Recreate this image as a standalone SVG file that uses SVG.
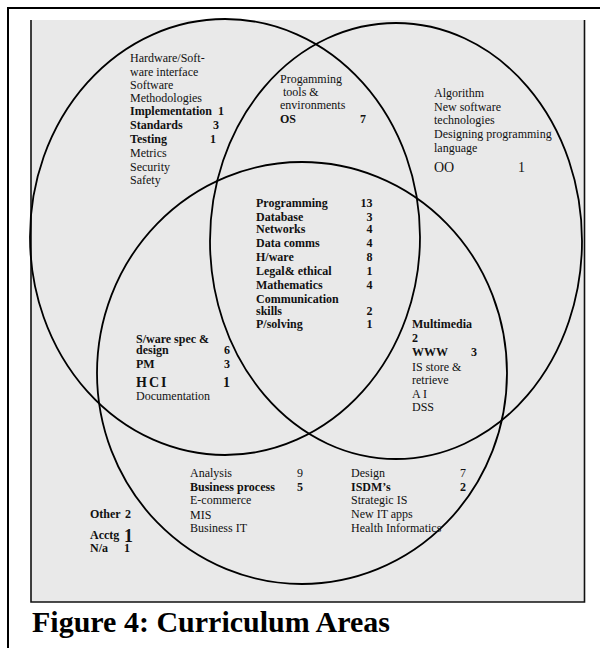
<svg xmlns="http://www.w3.org/2000/svg" width="600" height="648" viewBox="0 0 600 648">
<defs>
<style>
text{font-family:"Liberation Serif","Times New Roman",serif;font-size:12px;fill:#111}
.b{font-weight:bold}
.e{text-anchor:end}
.set{fill:none;stroke:#000;stroke-width:1.8}
</style>
</defs>
<rect x="0" y="0" width="600" height="648" fill="#fff"/>
<rect x="8" y="8" width="610" height="660" fill="none" stroke="#000" stroke-width="2"/>
<rect x="31" y="20" width="553.5" height="582" fill="#e9e9e9"/>
<path d="M31 20V602H584.5V20" fill="none" stroke="#111" stroke-width="1.6"/>
<g id="sets">
<g id="set-left"><ellipse class="set" cx="225" cy="237" rx="195" ry="218"/></g>
<g id="set-right"><ellipse class="set" cx="396" cy="241" rx="186" ry="218"/></g>
<g id="set-bottom"><ellipse class="set" cx="302" cy="373" rx="205" ry="211"/></g>
</g>
<g id="connectors"></g>
<g id="region-left">
<text x="130" y="62">Hardware/Soft-</text>
<text x="130" y="75.5">ware interface</text>
<text x="130" y="89">Software</text>
<text x="130" y="101.5">Methodologies</text>
<text x="130" y="115" class="b">Implementation</text><text x="218" y="115" class="b">1</text>
<text x="130" y="129" class="b">Standards</text><text x="213" y="129" class="b">3</text>
<text x="130" y="143" class="b">Testing</text><text x="210" y="143" class="b">1</text>
<text x="130" y="157">Metrics</text>
<text x="130" y="171">Security</text>
<text x="130" y="184">Safety</text>
</g>
<g id="region-left-right">
<text x="280" y="83">Progamming</text>
<text x="283" y="96">tools &amp;</text>
<text x="280" y="109">environments</text>
<text x="280" y="123" class="b">OS</text><text x="360" y="123" class="b">7</text>
</g>
<g id="region-right">
<text x="434" y="97">Algorithm</text>
<text x="434" y="111">New software</text>
<text x="434" y="124">technologies</text>
<text x="434" y="138">Designing programming</text>
<text x="434" y="152">language</text>
<text x="434" y="172" style="font-size:14px">OO</text><text x="518" y="172" style="font-size:14px">1</text>
</g>
<g id="region-center" class="b">
<text x="256" y="207" class="b">Programming</text><text x="372.5" y="207" class="b e">13</text>
<text x="256" y="220.5" class="b">Database</text><text x="372.5" y="220.5" class="b e">3</text>
<text x="256" y="232.5" class="b">Networks</text><text x="372.5" y="232.5" class="b e">4</text>
<text x="256" y="246.5" class="b">Data comms</text><text x="372.5" y="246.5" class="b e">4</text>
<text x="256" y="260.5" class="b">H/ware</text><text x="372.5" y="260.5" class="b e">8</text>
<text x="256" y="274.5" class="b">Legal&amp; ethical</text><text x="372.5" y="274.5" class="b e">1</text>
<text x="256" y="288.5" class="b">Mathematics</text><text x="372.5" y="288.5" class="b e">4</text>
<text x="256" y="302.5" class="b">Communication</text>
<text x="256" y="315" class="b">skills</text><text x="372.5" y="315" class="b e">2</text>
<text x="256" y="328" class="b">P/solving</text><text x="372.5" y="328" class="b e">1</text>
</g>
<g id="region-left-bottom">
<text x="136" y="342.5" class="b">S/ware spec &amp;</text>
<text x="136" y="354" class="b">design</text><text x="230" y="354" class="b e">6</text>
<text x="136" y="368" class="b">PM</text><text x="230" y="368" class="b e">3</text>
<text x="136" y="386.5" class="b" style="font-size:14px;letter-spacing:2px">HCI</text><text x="230" y="386.5" class="b e" style="font-size:14px">1</text>
<text x="136" y="400">Documentation</text>
</g>
<g id="region-right-bottom">
<text x="412" y="328" class="b">Multimedia</text>
<text x="412" y="342" class="b">2</text>
<text x="412" y="356" class="b">WWW</text><text x="471" y="356" class="b">3</text>
<text x="412" y="370.5">IS store &amp;</text>
<text x="412" y="384">retrieve</text>
<text x="412" y="398">A I</text>
<text x="412" y="410.5">DSS</text>
</g>
<g id="region-bottom-left">
<text x="190" y="476.5">Analysis</text><text x="303" y="476.5" class="e">9</text>
<text x="190" y="490.5" class="b">Business process</text><text x="303" y="490.5" class="b e">5</text>
<text x="190" y="504">E-commerce</text>
<text x="190" y="518.5">MIS</text>
<text x="190" y="532">Business IT</text>
</g>
<g id="region-bottom-right">
<text x="351" y="476.5">Design</text><text x="466" y="476.5" class="e">7</text>
<text x="351" y="490.5" class="b">ISDM’s</text><text x="466" y="490.5" class="b e">2</text>
<text x="351" y="504">Strategic IS</text>
<text x="351" y="518">New IT apps</text>
<text x="351" y="532">Health Informatics</text>
</g>
<g id="region-outside" class="b">
<text x="90" y="518" class="b">Other</text><text x="125" y="518" class="b">2</text>
<text x="90" y="539" class="b">Acctg</text><text x="124" y="542" class="b" style="font-size:18px">1</text>
<text x="90" y="552" class="b">N/a</text><text x="124" y="552" class="b">1</text>
</g>
<text x="32" y="631.5" class="b" style="font-size:30px;fill:#000">Figure 4: Curriculum Areas</text>
</svg>
